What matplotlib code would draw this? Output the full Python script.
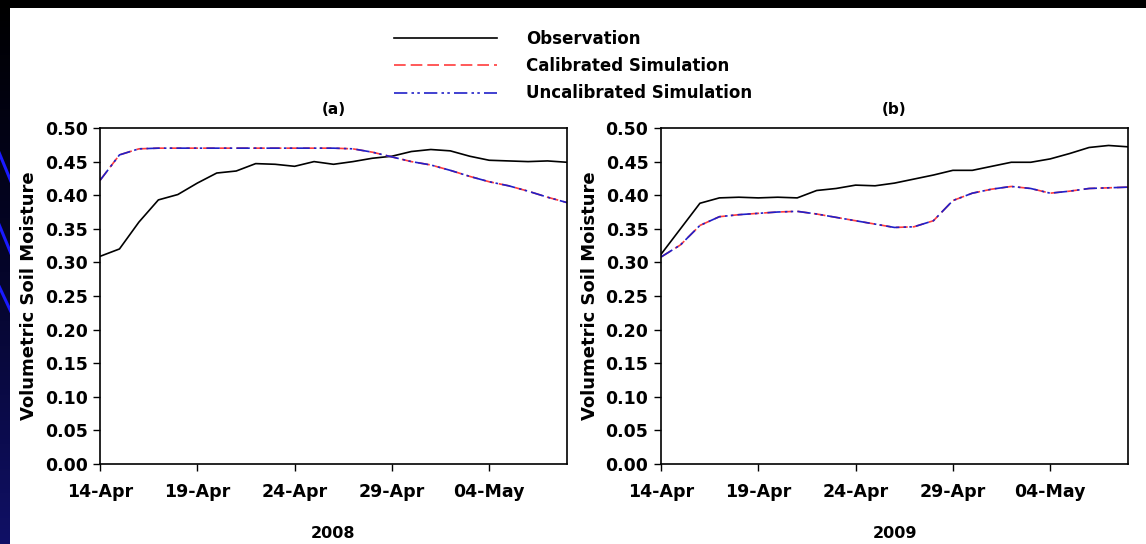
import numpy as np
import pandas as pd
import matplotlib
matplotlib.use("Agg")
import matplotlib.pyplot as plt
import matplotlib.dates as mdates
from matplotlib.lines import Line2D
from matplotlib.patches import Rectangle
from matplotlib.colors import LinearSegmentedColormap

plt.rcParams['font.family'] = ['DejaVu Sans']

# daily values, 14-Apr to 08-May
days_2008 = pd.date_range("2008-04-14", "2008-05-08", freq="D")
days_2009 = pd.date_range("2009-04-14", "2009-05-08", freq="D")

obs_2008 = [0.309, 0.320, 0.360, 0.393, 0.401, 0.418, 0.433, 0.436, 0.447, 0.446,
            0.443, 0.450, 0.446, 0.450, 0.455, 0.458, 0.465, 0.468, 0.466, 0.458,
            0.452, 0.451, 0.450, 0.451, 0.449]
cal_2008 = [0.422, 0.460, 0.469, 0.470, 0.470, 0.470, 0.470, 0.470, 0.470, 0.470,
            0.470, 0.470, 0.470, 0.469, 0.464, 0.457, 0.450, 0.445, 0.437, 0.428,
            0.420, 0.414, 0.406, 0.397, 0.389]
uncal_2008 = [0.422, 0.460, 0.469, 0.470, 0.470, 0.470, 0.470, 0.470, 0.470, 0.470,
              0.470, 0.470, 0.470, 0.469, 0.464, 0.457, 0.450, 0.445, 0.437, 0.428,
              0.420, 0.414, 0.406, 0.397, 0.389]

obs_2009 = [0.312, 0.350, 0.388, 0.396, 0.397, 0.396, 0.397, 0.396, 0.407, 0.410,
            0.415, 0.414, 0.418, 0.424, 0.430, 0.437, 0.437, 0.443, 0.449, 0.449,
            0.454, 0.462, 0.471, 0.474, 0.472]
cal_2009 = [0.308, 0.326, 0.355, 0.368, 0.371, 0.373, 0.375, 0.376, 0.372, 0.367,
            0.362, 0.357, 0.352, 0.353, 0.362, 0.392, 0.403, 0.409, 0.413, 0.410,
            0.403, 0.406, 0.410, 0.411, 0.412]
uncal_2009 = [0.308, 0.326, 0.355, 0.368, 0.371, 0.373, 0.375, 0.376, 0.372, 0.367,
              0.362, 0.357, 0.352, 0.353, 0.362, 0.392, 0.403, 0.409, 0.413, 0.410,
              0.403, 0.406, 0.410, 0.411, 0.412]

panels = [
    ("(a)", "2008", days_2008, obs_2008, cal_2008, uncal_2008),
    ("(b)", "2009", days_2009, obs_2009, cal_2009, uncal_2009),
]
series_names = ["Observation", "Calibrated Simulation", "Uncalibrated Simulation"]

RED = "#ff3c3c"
BLUE = "#2020c8"
CAL_DASH = (7, 3)
UNCAL_DASH = (8, 2.5, 1.5, 2, 1.5, 2.5)

fig = plt.figure(figsize=(11.46, 5.44), dpi=100)
fig.patch.set_facecolor("black")

# slide background: dark left strip with blue streaks, white panel
bg = fig.add_axes([0, 0, 1, 1], zorder=-10)
bg.axis("off")
grad = np.linspace(0, 1, 256).reshape(-1, 1)
cmap = LinearSegmentedColormap.from_list("slide", ["#101066", "#05052a", "#000000"])
bg.imshow(grad, aspect="auto", cmap=cmap, extent=[0, 10, 0, 544], origin="lower")
for y0, y1 in [(392, 362), (320, 290), (258, 232)]:
    bg.plot([-2, 12], [y0 + 2, y1 - 2], color="#1a1aff", lw=2.2)
bg.add_patch(Rectangle((10, 0), 1136, 536, facecolor="white", edgecolor="none", zorder=5))
bg.set_xlim(0, 1146)
bg.set_ylim(0, 544)

lefts = [100 / 1146, 661 / 1146]
for (title, year, days, obs, cal, uncal), left in zip(panels, lefts):
    ax = fig.add_axes([left, 80 / 544, 467 / 1146, 336 / 544])
    ax.set_facecolor("white")
    ax.plot(days, obs, color="black", lw=1.2)
    ax.plot(days, cal, color=RED, lw=1.2, dashes=CAL_DASH)
    ax.plot(days, uncal, color=BLUE, lw=1.2, dashes=UNCAL_DASH)
    ax.set_xlim(days[0], days[-1])
    ax.set_ylim(0, 0.5)
    ax.set_yticks(np.arange(0, 0.501, 0.05))
    ax.yaxis.set_major_formatter(matplotlib.ticker.FormatStrFormatter("%.2f"))
    ax.set_xticks(days[::5][:5])
    ax.xaxis.set_major_formatter(mdates.DateFormatter("%d-%b"))
    ax.tick_params(direction="out", length=5, width=1, labelsize=12.5, colors="black")
    ax.tick_params(axis="x", pad=9)
    ax.tick_params(axis="y", pad=4)
    for lab in ax.get_xticklabels() + ax.get_yticklabels():
        lab.set_fontweight("bold")
    for s in ax.spines.values():
        s.set_linewidth(1.2)
    ax.set_title(title, fontsize=11, fontweight="bold", pad=10)
    ax.set_ylabel("Volumetric Soil Moisture", fontsize=13, fontweight="bold", labelpad=5)
    ax.set_xlabel(year, fontsize=11.5, fontweight="bold", labelpad=18)

handles = [
    Line2D([], [], color="black", lw=1.2),
    Line2D([], [], color=RED, lw=1.2, dashes=CAL_DASH),
    Line2D([], [], color=BLUE, lw=1.2, dashes=UNCAL_DASH),
]
fig.legend(handles, series_names, loc="upper left", bbox_to_anchor=(394 / 1146, 1 - 30 / 544),
           frameon=False, prop={"size": 12, "weight": "bold"}, handlelength=6.2,
           handletextpad=1.7, labelspacing=0.55, borderaxespad=0, borderpad=0)

fig.savefig("out.png", dpi=100, facecolor=fig.get_facecolor())
